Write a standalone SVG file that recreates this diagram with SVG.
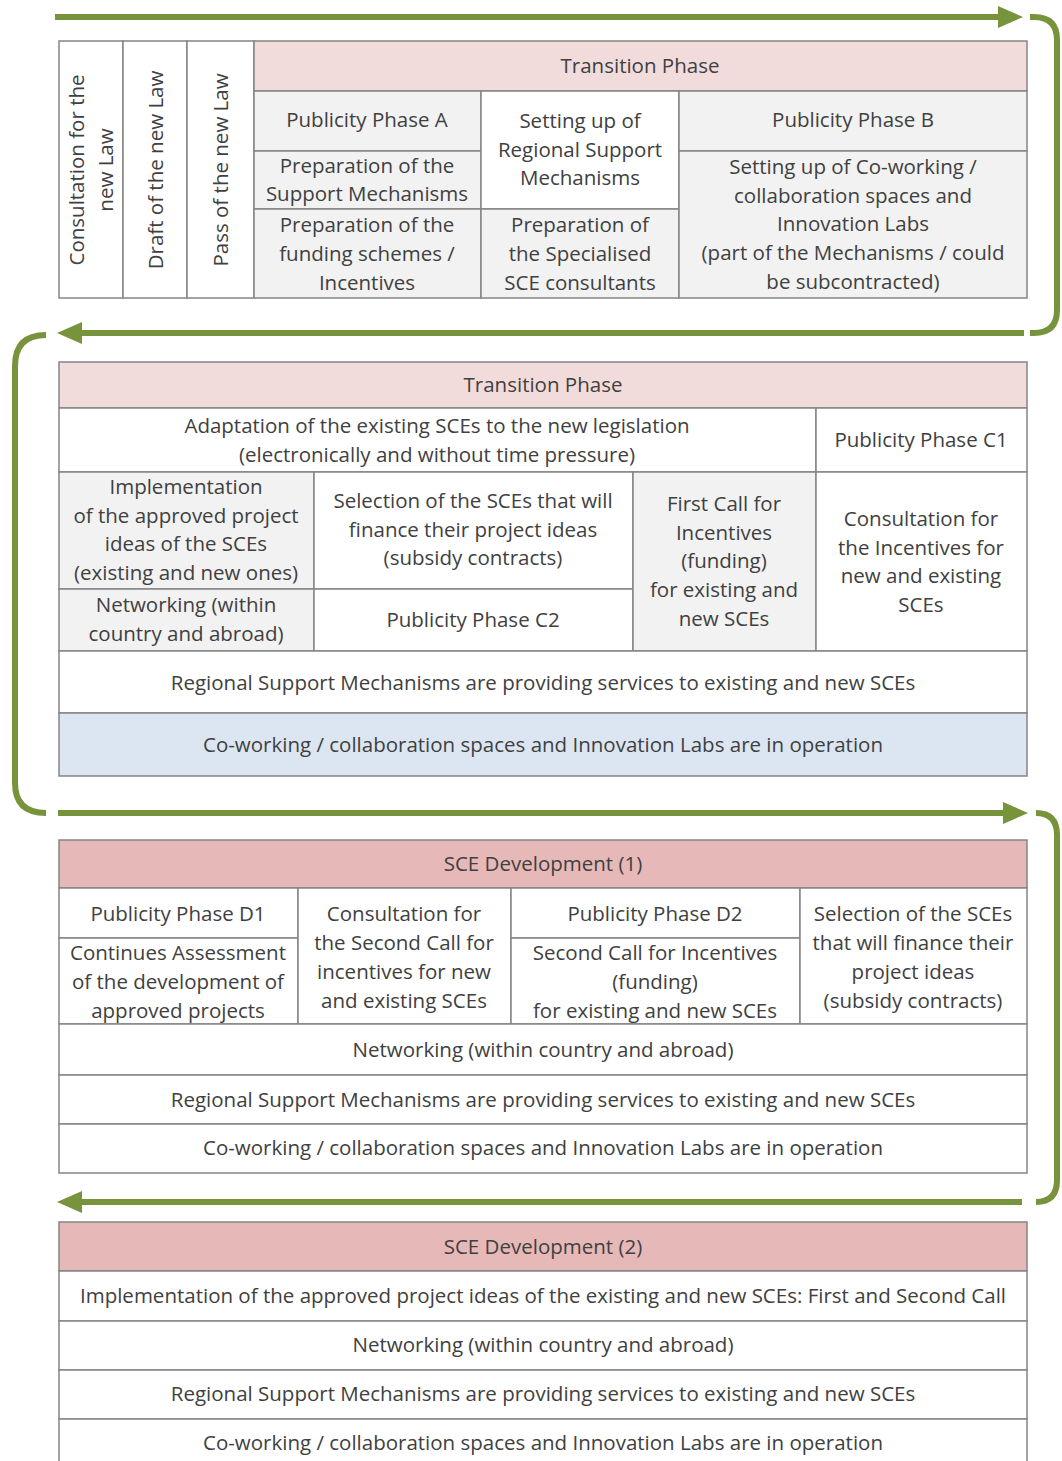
<svg xmlns="http://www.w3.org/2000/svg" width="1062" height="1461" viewBox="0 0 1062 1461">
  <defs>
    <style>
      .c { stroke: #858585; stroke-width: 1.5; }
      .w { fill: #ffffff; }
      .g { fill: #f2f2f2; }
      .p { fill: #f2dcdb; }
      .r { fill: #e6b9b8; }
      .b { fill: #dce6f2; }
      text { font-family: "Open Sans", "Liberation Sans", sans-serif; font-size: 20.5px; fill: #404040; text-anchor: middle; }
      .flow { fill: none; stroke: #77933c; stroke-width: 6; }
      .head { fill: #77933c; }
    </style>
  </defs>
  <rect width="1062" height="1461" fill="#ffffff"/>

  <!-- flow arrows around the tables -->
  <g id="connectors">
    <line class="flow" x1="55" y1="17" x2="1002" y2="17"/>
    <polygon class="head" points="998,6 1023,17 998,28"/>
    <path class="flow" d="M1030,17 H1034 Q1057,17 1057,40 V310 Q1057,333 1034,333 H1030"/>
    <line class="flow" x1="1024" y1="333" x2="78" y2="333"/>
    <polygon class="head" points="82,322 57,333 82,344"/>
    <path class="flow" d="M46,335 Q15,335 15,366 V783 Q15,813 46,813"/>
    <line class="flow" x1="58" y1="813" x2="1006" y2="813"/>
    <polygon class="head" points="1003,802 1028,813 1003,824"/>
    <path class="flow" d="M1036,813 Q1057,813 1057,835 V1180 Q1057,1202 1036,1202"/>
    <line class="flow" x1="1022" y1="1202" x2="78" y2="1202"/>
    <polygon class="head" points="82,1191 57,1202 82,1213"/>
  </g>

  <!-- Table 1: law preparation and first transition phase -->
  <g id="consultation-law">
    <rect class="c w" x="59" y="41" width="64" height="257"/>
    <text transform="translate(84,170) rotate(-90)">Consultation for the</text>
    <text transform="translate(113,170) rotate(-90)">new Law</text>
  </g>
  <g id="draft-law">
    <rect class="c w" x="123" y="41" width="64" height="257"/>
    <text transform="translate(163,170) rotate(-90)">Draft of the new Law</text>
  </g>
  <g id="pass-law">
    <rect class="c w" x="187" y="41" width="67" height="257"/>
    <text transform="translate(228,170) rotate(-90)">Pass of the new Law</text>
  </g>
  <g id="transition-1">
    <rect class="c p" x="254" y="41" width="773" height="50"/>
    <text x="640" y="73">Transition Phase</text>
  </g>
  <g id="publicity-a">
    <rect class="c g" x="254" y="91" width="227" height="60"/>
    <text x="367" y="127">Publicity Phase A</text>
  </g>
  <g id="prep-support">
    <rect class="c g" x="254" y="151" width="227" height="58"/>
    <text x="367" y="173">Preparation of the</text>
    <text x="367" y="201">Support Mechanisms</text>
  </g>
  <g id="prep-funding">
    <rect class="c g" x="254" y="209" width="227" height="89"/>
    <text x="367" y="232">Preparation of the</text>
    <text x="367" y="261">funding schemes /</text>
    <text x="367" y="290">Incentives</text>
  </g>
  <g id="setup-regional">
    <rect class="c w" x="481" y="91" width="198" height="118"/>
    <text x="580" y="128">Setting up of</text>
    <text x="580" y="157">Regional Support</text>
    <text x="580" y="185">Mechanisms</text>
  </g>
  <g id="prep-consultants">
    <rect class="c g" x="481" y="209" width="198" height="89"/>
    <text x="580" y="232">Preparation of</text>
    <text x="580" y="261">the Specialised</text>
    <text x="580" y="290">SCE consultants</text>
  </g>
  <g id="publicity-b">
    <rect class="c g" x="679" y="91" width="348" height="60"/>
    <text x="853" y="127">Publicity Phase B</text>
  </g>
  <g id="setup-coworking">
    <rect class="c g" x="679" y="151" width="348" height="147"/>
    <text x="853" y="174">Setting up of Co-working /</text>
    <text x="853" y="203">collaboration spaces and</text>
    <text x="853" y="231">Innovation Labs</text>
    <text x="853" y="260">(part of the Mechanisms / could</text>
    <text x="853" y="289">be subcontracted)</text>
  </g>

  <!-- Table 2: second transition phase -->
  <g id="transition-2">
    <rect class="c p" x="59" y="362" width="968" height="46"/>
    <text x="543" y="392">Transition Phase</text>
  </g>
  <g id="adaptation">
    <rect class="c w" x="59" y="408" width="757" height="64"/>
    <text x="437" y="433">Adaptation of the existing SCEs to the new legislation</text>
    <text x="437" y="462">(electronically and without time pressure)</text>
  </g>
  <g id="publicity-c1">
    <rect class="c w" x="816" y="408" width="211" height="64"/>
    <text x="921" y="447">Publicity Phase C1</text>
  </g>
  <g id="implementation-1">
    <rect class="c g" x="59" y="472" width="255" height="117"/>
    <text x="186" y="494">Implementation</text>
    <text x="186" y="523">of the approved project</text>
    <text x="186" y="551">ideas of the SCEs</text>
    <text x="186" y="580">(existing and new ones)</text>
  </g>
  <g id="networking-1">
    <rect class="c g" x="59" y="589" width="255" height="62"/>
    <text x="186" y="612">Networking (within</text>
    <text x="186" y="641">country and abroad)</text>
  </g>
  <g id="selection-1">
    <rect class="c w" x="314" y="472" width="319" height="117"/>
    <text x="473" y="508">Selection of the SCEs that will</text>
    <text x="473" y="537">finance their project ideas</text>
    <text x="473" y="565">(subsidy contracts)</text>
  </g>
  <g id="publicity-c2">
    <rect class="c w" x="314" y="589" width="319" height="62"/>
    <text x="473" y="627">Publicity Phase C2</text>
  </g>
  <g id="first-call">
    <rect class="c g" x="633" y="472" width="183" height="179"/>
    <text x="724" y="511">First Call for</text>
    <text x="724" y="540">Incentives</text>
    <text x="724" y="568">(funding)</text>
    <text x="724" y="597">for existing and</text>
    <text x="724" y="626">new SCEs</text>
  </g>
  <g id="consultation-incentives">
    <rect class="c w" x="816" y="472" width="211" height="179"/>
    <text x="921" y="526">Consultation for</text>
    <text x="921" y="555">the Incentives for</text>
    <text x="921" y="583">new and existing</text>
    <text x="921" y="612">SCEs</text>
  </g>
  <g id="regional-services-1">
    <rect class="c w" x="59" y="651" width="968" height="62"/>
    <text x="543" y="690">Regional Support Mechanisms are providing services to existing and new SCEs</text>
  </g>
  <g id="coworking-1">
    <rect class="c b" x="59" y="713" width="968" height="63"/>
    <text x="543" y="752">Co-working / collaboration spaces and Innovation Labs are in operation</text>
  </g>

  <!-- Table 3: SCE development (1) -->
  <g id="development-1">
    <rect class="c r" x="59" y="840" width="968" height="48"/>
    <text x="543" y="871">SCE Development (1)</text>
  </g>
  <g id="publicity-d1">
    <rect class="c w" x="59" y="888" width="239" height="50"/>
    <text x="178" y="921">Publicity Phase D1</text>
  </g>
  <g id="assessment">
    <rect class="c w" x="59" y="938" width="239" height="86"/>
    <text x="178" y="960">Continues Assessment</text>
    <text x="178" y="989">of the development of</text>
    <text x="178" y="1018">approved projects</text>
  </g>
  <g id="consultation-second">
    <rect class="c w" x="298" y="888" width="213" height="136"/>
    <text x="404" y="921">Consultation for</text>
    <text x="404" y="950">the Second Call for</text>
    <text x="404" y="979">incentives for new</text>
    <text x="404" y="1008">and existing SCEs</text>
  </g>
  <g id="publicity-d2">
    <rect class="c w" x="511" y="888" width="289" height="50"/>
    <text x="655" y="921">Publicity Phase D2</text>
  </g>
  <g id="second-call">
    <rect class="c w" x="511" y="938" width="289" height="86"/>
    <text x="655" y="960">Second Call for Incentives</text>
    <text x="655" y="989">(funding)</text>
    <text x="655" y="1018">for existing and new SCEs</text>
  </g>
  <g id="selection-2">
    <rect class="c w" x="800" y="888" width="227" height="136"/>
    <text x="913" y="921">Selection of the SCEs</text>
    <text x="913" y="950">that will finance their</text>
    <text x="913" y="979">project ideas</text>
    <text x="913" y="1008">(subsidy contracts)</text>
  </g>
  <g id="networking-2">
    <rect class="c w" x="59" y="1024" width="968" height="51"/>
    <text x="543" y="1057">Networking (within country and abroad)</text>
  </g>
  <g id="regional-services-2">
    <rect class="c w" x="59" y="1075" width="968" height="49"/>
    <text x="543" y="1107">Regional Support Mechanisms are providing services to existing and new SCEs</text>
  </g>
  <g id="coworking-2">
    <rect class="c w" x="59" y="1124" width="968" height="49"/>
    <text x="543" y="1155">Co-working / collaboration spaces and Innovation Labs are in operation</text>
  </g>

  <!-- Table 4: SCE development (2) -->
  <g id="development-2">
    <rect class="c r" x="59" y="1222" width="968" height="49"/>
    <text x="543" y="1254">SCE Development (2)</text>
  </g>
  <g id="implementation-2">
    <rect class="c w" x="59" y="1271" width="968" height="50"/>
    <text x="543" y="1303">Implementation of the approved project ideas of the existing and new SCEs: First and Second Call</text>
  </g>
  <g id="networking-3">
    <rect class="c w" x="59" y="1321" width="968" height="49"/>
    <text x="543" y="1352">Networking (within country and abroad)</text>
  </g>
  <g id="regional-services-3">
    <rect class="c w" x="59" y="1370" width="968" height="49"/>
    <text x="543" y="1401">Regional Support Mechanisms are providing services to existing and new SCEs</text>
  </g>
  <g id="coworking-3">
    <rect class="c w" x="59" y="1419" width="968" height="49"/>
    <text x="543" y="1450">Co-working / collaboration spaces and Innovation Labs are in operation</text>
  </g>
</svg>
